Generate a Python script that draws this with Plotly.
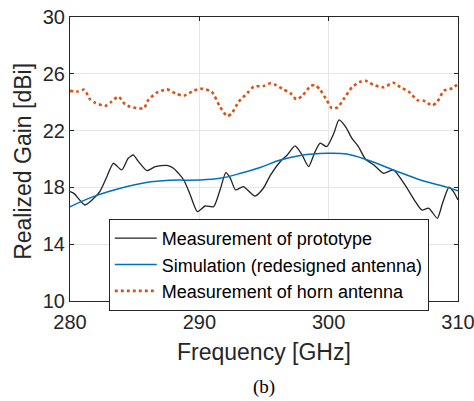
import plotly.graph_objects as go

# Horn antenna measurement
horn_f = [280.0, 280.6, 281.1, 281.55, 281.95, 282.7, 283.2, 283.75, 284.25, 284.65, 285.7, 286.05,
          286.7, 287.5, 288.25, 288.8, 289.55, 290.2, 290.95, 291.6, 292.15, 292.5, 293.05, 293.7,
          294.2, 294.95, 295.5, 295.9, 296.5, 297.05, 297.5, 297.95, 298.6, 298.95, 299.35, 299.85,
          300.25, 300.7, 301.15, 301.8, 302.45, 302.85, 303.5, 304.25, 305.0, 305.55, 306.2, 306.85,
          307.35, 308.0, 308.4, 308.9, 309.55, 310.0]
horn_g = [24.8, 24.75, 24.88, 24.2, 23.96, 23.73, 24.03, 24.39, 23.85, 23.68, 23.57, 24.15,
          24.67, 24.9, 24.58, 24.46, 24.81, 24.95, 24.74, 23.68, 23.03, 23.2, 24.04, 24.63,
          25.09, 25.14, 25.33, 25.21, 24.9, 24.63, 24.2, 24.44, 25.14, 25.21, 24.86, 24.15,
          23.57, 23.64, 24.2, 25.05, 25.44, 25.51, 25.21, 25.05, 25.37, 25.05, 24.74, 24.15,
          24.1, 23.78, 24.03, 24.81, 24.98, 25.3]

# Prototype measurement
proto_f = [280.0, 280.3, 281.15, 281.7, 282.3, 282.85, 283.35, 284.0, 284.5, 284.9, 285.3, 285.95,
           286.6, 287.5, 288.0, 288.8, 289.3, 289.85, 290.45, 291.1, 291.6, 292.05, 292.4, 292.8,
           293.4, 294.3, 294.95, 295.5, 296.25, 296.8, 297.4, 297.95, 298.45, 298.95, 299.35, 299.85,
           300.4, 300.8, 301.3, 301.8, 302.3, 302.85, 303.5, 304.25, 305.0, 305.9, 306.7, 307.2,
           307.75, 308.4, 308.8, 309.3, 309.65, 310.0]
proto_g = [17.7, 17.58, 16.76, 17.11, 17.7, 18.75, 19.7, 19.23, 20.05, 20.28, 19.81, 19.18,
           19.46, 19.55, 19.35, 18.52, 17.46, 16.29, 16.69, 16.64, 17.82, 19.04, 18.64, 17.82,
           18.05, 17.39, 17.94, 18.87, 19.81, 20.28, 20.92, 20.28, 19.46, 20.52, 21.11, 20.87,
           21.81, 22.75, 22.28, 21.46, 20.87, 19.98, 19.58, 18.99, 19.23, 18.17, 17.0, 16.41,
           16.53, 15.82, 16.88, 18.01, 17.7, 17.11]

# Simulation (redesigned antenna)
sim_f = [280.0, 281.8, 283.9, 285.9, 287.7, 290.0, 291.6, 293.2, 294.7, 296.25, 297.8, 299.9,
         301.4, 303.0, 305.0, 307.1, 309.2, 310.0]
sim_g = [16.64, 17.35, 17.94, 18.35, 18.5, 18.52, 18.64, 18.99, 19.4, 19.93, 20.25, 20.4,
         20.35, 19.93, 19.23, 18.52, 18.0, 17.77]

x_ticks = [280, 290, 300, 310]
y_ticks = [10, 14, 18, 22, 26, 30]

FONT = "Liberation Sans, Arial, sans-serif"
SERIF = "Liberation Serif, Times New Roman, serif"
AX_COLOR = "#262626"

fig = go.Figure()
fig.add_trace(go.Scatter(x=proto_f, y=proto_g, mode="lines", name="Measurement of prototype",
                         line=dict(color="#222222", width=1.3, shape="spline", smoothing=0.6)))
fig.add_trace(go.Scatter(x=sim_f, y=sim_g, mode="lines", name="Simulation (redesigned antenna)",
                         line=dict(color="#0072BD", width=1.5, shape="spline", smoothing=1.0)))
fig.add_trace(go.Scatter(x=horn_f, y=horn_g, mode="lines", name="Measurement of horn antenna",
                         line=dict(color="#D95319", width=2.6, dash="dot", shape="spline", smoothing=0.6)))

axis_common = dict(showgrid=True, gridcolor="#E6E6E6", gridwidth=1,
                   showline=True, linecolor=AX_COLOR, linewidth=1, mirror="ticks",
                   ticks="inside", ticklen=4, tickcolor=AX_COLOR,
                   tickfont=dict(family=FONT, size=20, color=AX_COLOR), zeroline=False,
                   automargin=False, ticklabeloverflow="allow")

fig.update_xaxes(range=[280, 310], tickvals=x_ticks, ticklabelstandoff=3, **axis_common)
fig.update_yaxes(range=[10, 30], tickvals=y_ticks, **axis_common)

# Axis titles
fig.add_annotation(text="Frequency [GHz]", xref="paper", yref="paper", x=0.5, y=-0.1796,
                   xanchor="center", yanchor="middle", showarrow=False,
                   font=dict(family=FONT, size=23, color=AX_COLOR))
fig.add_annotation(text="Realized Gain [dBi]", xref="paper", yref="paper", x=-0.1211, y=0.49,
                   xanchor="center", yanchor="middle", showarrow=False, textangle=-90,
                   font=dict(family=FONT, size=23, color=AX_COLOR))
fig.add_annotation(text="(b)", xref="paper", yref="paper", x=0.5, y=-0.303, showarrow=False,
                   font=dict(family=SERIF, size=19, color="#000000"),
                   xanchor="center", yanchor="middle")

fig.update_layout(
    width=474, height=401,
    margin=dict(l=70, r=16, t=17, b=100),
    plot_bgcolor="white", paper_bgcolor="white",
    legend=dict(x=0.1, y=0.289, xanchor="left", yanchor="top",
                bgcolor="white", bordercolor=AX_COLOR, borderwidth=1,
                font=dict(family=FONT, size=18, color="#000000"),
                tracegroupgap=0, itemwidth=42),
    showlegend=True,
)

fig.write_html("out.html")
